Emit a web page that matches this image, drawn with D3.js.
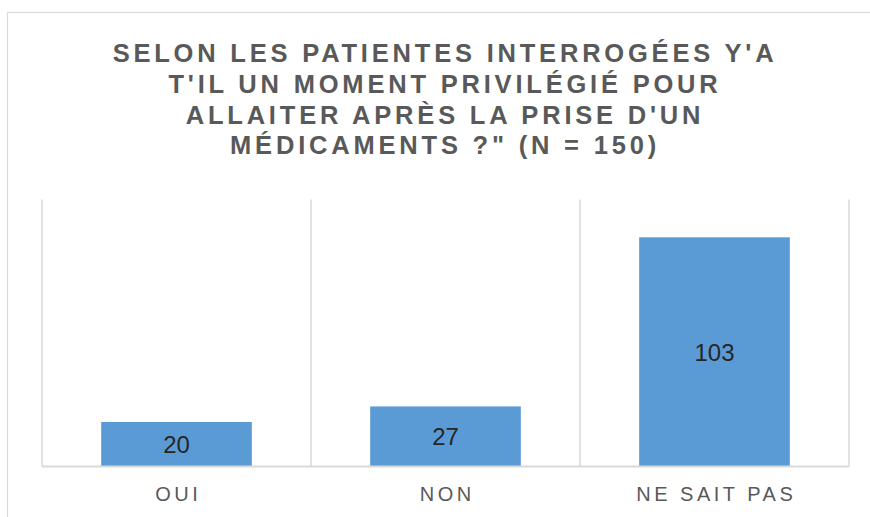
<!DOCTYPE html>
<html>
<head>
<meta charset="utf-8">
<script src="https://cdn.jsdelivr.net/npm/d3@7"></script>
<style>
  body { margin: 0; background: #fff; }
  svg { display: block; font-family: "Liberation Sans", Arial, sans-serif; }
</style>
</head>
<body>
<div id="chart"></div>
<script>
// data
var categories = ["OUI", "NON", "NE SAIT PAS"];
var counts = [20, 27, 103];
var titleLines = [
  "SELON LES PATIENTES INTERROGÉES Y'A",
  "T'IL UN MOMENT PRIVILÉGIÉ POUR",
  "ALLAITER APRÈS LA PRISE D'UN",
  "MÉDICAMENTS ?\" (N = 150)"
];

var width = 870;
var height = 517;

var svg = d3.select("#chart")
  .append("svg")
  .attr("width", width)
  .attr("height", height);

// chart frame
svg.append("rect")
  .attr("x", 7.5)
  .attr("y", 12.5)
  .attr("width", 900)
  .attr("height", 540)
  .attr("fill", "#fff")
  .attr("stroke", "#d9d9d9")
  .attr("stroke-width", 1.2);

// title
var title = svg.append("text")
  .attr("text-anchor", "middle")
  .attr("fill", "#595959")
  .attr("font-size", 25.5)
  .attr("font-weight", "bold")
  .attr("letter-spacing", 3.8);

title.selectAll("tspan")
  .data(titleLines)
  .enter()
  .append("tspan")
  .attr("x", 445)
  .attr("y", function(d, i) { return 62 + i * 30.8; })
  .text(function(d) { return d; });

// plot area
var plotLeft = 42, plotRight = 849, plotTop = 199.5, plotBottom = 466.5;

var x = d3.scaleBand()
  .domain(categories)
  .range([plotLeft, plotRight])
  .paddingInner(0.44)
  .paddingOuter(0.22);

var y = d3.scaleLinear()
  .domain([0, 120])
  .range([plotBottom, plotTop]);

// vertical separators between categories
var edges = categories.map(function(c) { return x(c) - x.step() * 0.22; });
edges.push(plotRight);

svg.selectAll(".sep")
  .data(edges)
  .enter()
  .append("line")
  .attr("class", "sep")
  .attr("x1", function(d) { return d; })
  .attr("x2", function(d) { return d; })
  .attr("y1", plotTop)
  .attr("y2", plotBottom)
  .attr("stroke", "#d9d9d9")
  .attr("stroke-width", 1.5);

// bars
svg.selectAll(".bar")
  .data(counts)
  .enter()
  .append("rect")
  .attr("class", "bar")
  .attr("x", function(d, i) { return x(categories[i]); })
  .attr("y", function(d) { return y(d); })
  .attr("width", x.bandwidth())
  .attr("height", function(d) { return y(0) - y(d); })
  .attr("fill", "#5b9bd5");

// baseline
svg.append("line")
  .attr("x1", plotLeft)
  .attr("x2", plotRight)
  .attr("y1", plotBottom)
  .attr("y2", plotBottom)
  .attr("stroke", "#d9d9d9")
  .attr("stroke-width", 1.8);

// value labels, centred in the bar
svg.selectAll(".val")
  .data(counts)
  .enter()
  .append("text")
  .attr("class", "val")
  .attr("x", function(d, i) { return x(categories[i]) + x.bandwidth() / 2; })
  .attr("y", function(d) { return (y(d) + y(0)) / 2; })
  .attr("dy", "0.36em")
  .attr("text-anchor", "middle")
  .attr("font-size", 24)
  .attr("fill", "#262626")
  .text(function(d) { return d; });

// category labels
var xAxis = d3.axisBottom(x).tickSize(0).tickPadding(0);
var gx = svg.append("g")
  .attr("transform", "translate(0," + plotBottom + ")")
  .call(xAxis);
gx.select(".domain").remove();
gx.selectAll("text")
  .attr("y", 34)
  .attr("dy", 0)
  .attr("dx", 1.75)
  .attr("font-family", "Liberation Sans, Arial, sans-serif")
  .attr("font-size", 20)
  .attr("letter-spacing", 3.5)
  .attr("fill", "#595959");
</script>
</body>
</html>
